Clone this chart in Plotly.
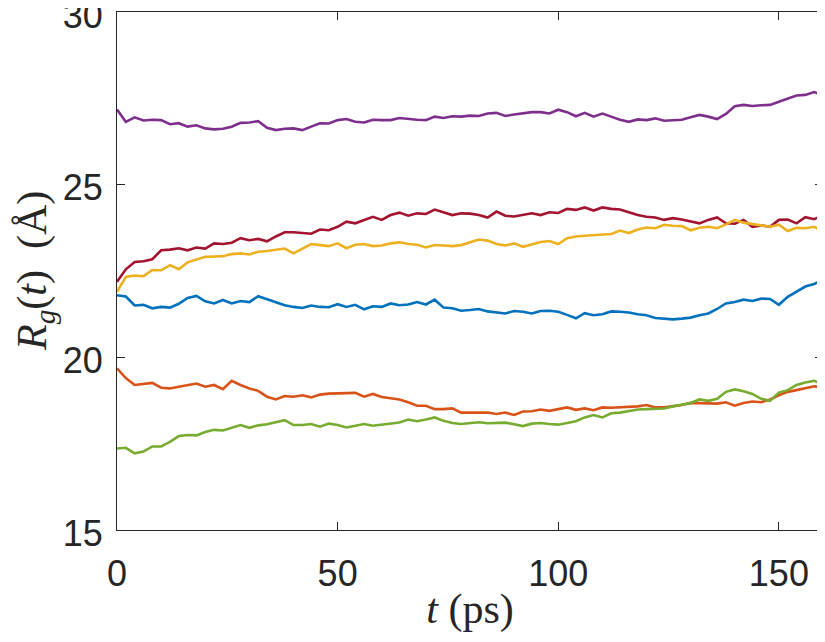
import numpy as np
import plotly.graph_objects as go

# time axis (ps), sampled every 2 ps
t = list(range(0, 161, 2))

rg_blue = [21.80, 21.76, 21.50, 21.52, 21.42, 21.46, 21.44, 21.55, 21.72, 21.78,
           21.62, 21.56, 21.66, 21.56, 21.63, 21.60, 21.77, 21.68, 21.58, 21.51,
           21.46, 21.43, 21.50, 21.46, 21.45, 21.54, 21.46, 21.52, 21.39, 21.48,
           21.46, 21.56, 21.51, 21.53, 21.60, 21.53, 21.67, 21.44, 21.42, 21.35,
           21.37, 21.40, 21.33, 21.30, 21.27, 21.34, 21.32, 21.27, 21.34, 21.35,
           21.32, 21.23, 21.13, 21.28, 21.22, 21.25, 21.33, 21.32, 21.30, 21.25,
           21.22, 21.14, 21.12, 21.10, 21.12, 21.15, 21.22, 21.27, 21.40, 21.56,
           21.60, 21.67, 21.63, 21.70, 21.69, 21.52, 21.75, 21.90, 22.05, 22.12,
           22.26]

rg_orange = [19.68, 19.40, 19.20, 19.23, 19.26, 19.12, 19.10, 19.15, 19.20, 19.24,
             19.15, 19.20, 19.08, 19.32, 19.20, 19.10, 19.03, 18.86, 18.78, 18.88,
             18.86, 18.90, 18.84, 18.92, 18.95, 18.96, 18.97, 18.97, 18.86, 18.94,
             18.85, 18.82, 18.78, 18.70, 18.60, 18.60, 18.50, 18.50, 18.52, 18.40,
             18.40, 18.40, 18.40, 18.36, 18.40, 18.33, 18.43, 18.44, 18.49, 18.45,
             18.49, 18.55, 18.48, 18.52, 18.47, 18.55, 18.54, 18.55, 18.56, 18.58,
             18.62, 18.55, 18.55, 18.58, 18.62, 18.68, 18.68, 18.68, 18.66, 18.70,
             18.60, 18.68, 18.72, 18.70, 18.78, 18.90, 19.00, 19.05, 19.10, 19.16,
             19.13]

rg_yellow = [21.90, 22.33, 22.37, 22.35, 22.53, 22.52, 22.67, 22.55, 22.75, 22.82,
             22.91, 22.92, 22.93, 22.99, 23.01, 22.98, 23.06, 23.08, 23.12, 23.15,
             23.01, 23.15, 23.28, 23.25, 23.22, 23.30, 23.16, 23.26, 23.28, 23.22,
             23.24, 23.30, 23.33, 23.28, 23.26, 23.18, 23.25, 23.24, 23.22, 23.25,
             23.32, 23.41, 23.38, 23.28, 23.24, 23.30, 23.20, 23.28, 23.34, 23.37,
             23.28, 23.45, 23.50, 23.52, 23.54, 23.56, 23.57, 23.67, 23.60, 23.70,
             23.76, 23.74, 23.84, 23.81, 23.80, 23.68, 23.75, 23.78, 23.74, 23.85,
             23.98, 23.90, 23.86, 23.80, 23.78, 23.84, 23.66, 23.75, 23.74, 23.78,
             23.64]

rg_purple = [27.18, 26.82, 26.95, 26.86, 26.88, 26.87, 26.75, 26.78, 26.68, 26.72,
             26.63, 26.60, 26.62, 26.68, 26.79, 26.80, 26.84, 26.65, 26.58, 26.62,
             26.63, 26.58, 26.68, 26.78, 26.77, 26.87, 26.90, 26.82, 26.80, 26.88,
             26.87, 26.87, 26.93, 26.90, 26.88, 26.87, 26.97, 26.93, 26.98, 26.97,
             27.00, 26.99, 27.06, 27.08, 26.99, 27.03, 27.06, 27.10, 27.10, 27.06,
             27.17, 27.10, 26.98, 27.08, 26.97, 27.06, 26.97, 26.88, 26.82, 26.89,
             26.87, 26.92, 26.85, 26.86, 26.88, 26.95, 27.02, 26.97, 26.90, 27.05,
             27.27, 27.31, 27.28, 27.30, 27.31, 27.40, 27.50, 27.58, 27.60, 27.68,
             27.58]

rg_green = [17.36, 17.38, 17.22, 17.27, 17.42, 17.42, 17.55, 17.72, 17.75, 17.74,
            17.84, 17.90, 17.88, 17.95, 18.04, 17.96, 18.03, 18.06, 18.13, 18.18,
            18.04, 18.04, 18.07, 17.99, 18.08, 18.04, 17.97, 18.01, 18.07, 18.02,
            18.05, 18.07, 18.11, 18.20, 18.15, 18.20, 18.26, 18.16, 18.10, 18.07,
            18.10, 18.12, 18.09, 18.10, 18.11, 18.06, 18.01, 18.08, 18.10, 18.07,
            18.05, 18.10, 18.15, 18.26, 18.33, 18.26, 18.38, 18.40, 18.44, 18.49,
            18.50, 18.52, 18.52, 18.58, 18.62, 18.68, 18.78, 18.74, 18.80, 19.00,
            19.07, 19.02, 18.94, 18.80, 18.74, 18.98, 19.05, 19.20, 19.27, 19.32,
            19.23]

rg_red = [22.19, 22.55, 22.76, 22.78, 22.84, 23.10, 23.12, 23.16, 23.10, 23.18,
          23.15, 23.30, 23.28, 23.32, 23.45, 23.39, 23.43, 23.36, 23.50, 23.62,
          23.62, 23.60, 23.58, 23.70, 23.68, 23.78, 23.93, 23.88, 23.98, 24.07,
          23.98, 24.12, 24.19, 24.10, 24.17, 24.15, 24.28, 24.19, 24.12, 24.17,
          24.16, 24.12, 24.05, 24.22, 24.10, 24.08, 24.13, 24.17, 24.12, 24.20,
          24.18, 24.30, 24.27, 24.34, 24.25, 24.34, 24.30, 24.28, 24.20, 24.12,
          24.07, 24.05, 23.98, 24.03, 23.99, 23.93, 23.88, 23.98, 24.05, 23.88,
          23.87, 23.98, 23.78, 23.82, 23.78, 23.98, 23.99, 23.88, 24.06, 24.00,
          24.12]

series = [
    (rg_blue, "#0072BD"),
    (rg_orange, "#D95319"),
    (rg_red, "#A2142F"),
    (rg_yellow, "#EDB120"),
    (rg_purple, "#7E2F8E"),
    (rg_green, "#77AC30"),
]

fig = go.Figure()
for vals, col in series:
    fig.add_trace(go.Scatter(x=t, y=vals, mode="lines",
                             line=dict(color=col, width=2.6), showlegend=False))

axis_style = dict(
    showline=True, linecolor="#262626", linewidth=1, mirror="ticks",
    ticks="inside", ticklen=8, tickcolor="#262626", tickwidth=1,
    showgrid=False, zeroline=False, ticklabeloverflow="allow",
    tickfont=dict(family="Liberation Sans, Arial", size=36, color="#262626"),
)
title_font = dict(family="Liberation Serif, serif", size=42, color="#262626")

fig.update_xaxes(range=[0, 160], tickvals=[0, 50, 100, 150], ticklabelstandoff=12,
                 title=dict(text="<i>t</i> (ps)", standoff=0, font=title_font),
                 **axis_style)
fig.update_yaxes(range=[15, 30], tickvals=[15, 20, 25, 30], ticklabelstandoff=6,
                 ticklabelshift=3, **axis_style)

# y label as a rotated annotation so it can sit where the original one is
fig.add_annotation(text="<i>R</i><sub><i>g</i></sub>(<i>t</i>)  (Å)",
                   xref="paper", yref="paper", x=0, y=0.5, xanchor="center",
                   yanchor="middle", xshift=-82, textangle=-90, showarrow=False,
                   font=title_font)

# page body adds an 8 px margin, so the figure is shrunk by that much
fig.update_layout(
    width=817, height=634,
    margin=dict(l=109, r=2, t=4, b=112, autoexpand=False),
    plot_bgcolor="white", paper_bgcolor="white",
)

fig.write_html("out.html")
